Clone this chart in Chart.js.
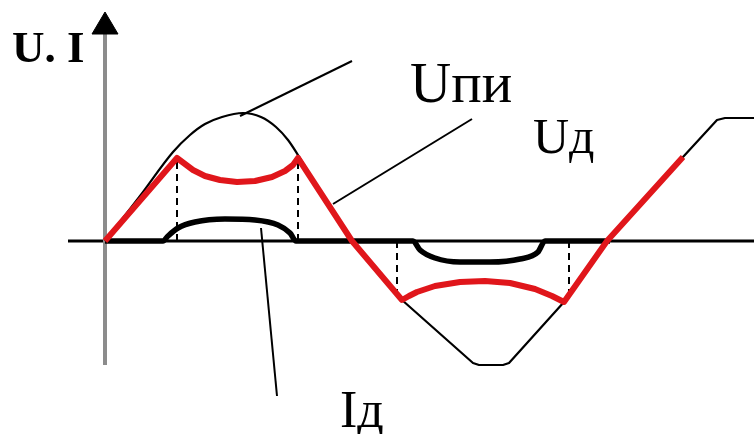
<!DOCTYPE html>
<html>
<head>
<meta charset="utf-8">
<script src="https://cdn.jsdelivr.net/npm/chart.js@4.4.0/dist/chart.umd.min.js"></script>
<style>
  body { margin: 0; background: #fff; }
  canvas { display: block; }
</style>
</head>
<body>
<canvas id="myChart" width="754" height="434"></canvas>
<script>
// x = time (origin on the U axis), y = amplitude (0 on the time axis)
// source voltage: rounded positive half, then a trapezoid-like rest
const upiArcX = [0, 35, 68, 85, 100, 117, 138, 156, 171, 183, 193, 220, 247];
const upiArcY = [0, 45, 89, 106, 117, 124, 128, 124, 114, 101, 86, 42, 0];
const upiRestX = [247, 297, 368, 374, 398, 404, 459, 502, 578, 612, 620, 649];
const upiRestY = [0, -59, -122, -124, -124, -122, -61, 0, 84, 121, 123, 123];

const udX = [0, 72, 80, 88, 100, 115, 132, 150, 167, 180, 188, 193, 247, 297, 304, 312, 330, 355, 380, 405, 430, 447, 455, 459, 502, 578];
const udY = [0, 83, 77, 71, 65, 61, 59, 60, 64, 70, 76, 83, 0, -59, -55, -51, -45, -41, -40, -42, -48, -55, -59, -61, 0, 84];

const idX = [0, 58, 63, 73, 90, 120, 150, 173, 185, 191, 308, 315, 330, 355, 385, 415, 433, 440, 505];
const idY = [0, 0, 5, 13, 19, 22, 21, 16, 8, 0, 0, -9, -17, -21, -21, -18, -11, 0, 0];

// where the red curve leaves / rejoins the source curve
const switchX = [72, 193, 292, 464];
const switchY = [81, 81, -57, -59];

const labels = [
    { text: 'U. I', x: -93, y: 179, font: 'bold 45px "Liberation Serif"' },
    { text: 'Uпи', x: 305, y: 139, font: '57px "Liberation Serif"' },
    { text: 'Uд', x: 428, y: 88, font: '50px "Liberation Serif"' },
    { text: 'Iд', x: 235, y: -186, font: '52px "Liberation Serif"' }
];

function pts(xs, ys) {
    return xs.map((x, i) => ({ x: x, y: ys[i] }));
}

function line(data, color, width, dash) {
    return {
        data: data,
        showLine: true,
        borderColor: color,
        borderWidth: width,
        borderDash: dash || [],
        pointRadius: 0,
        tension: 0,
        fill: false,
        borderCapStyle: 'butt',
        borderJoinStyle: 'round'
    };
}

const red = '#e0161b';
const sets = [];
sets.push(line([{ x: -37, y: 0 }, { x: 649, y: 0 }], '#000', 3));
sets.push(line([{ x: 0, y: -124 }, { x: 0, y: 210 }], '#8c8c8c', 4));
let arrow = line([{ x: -13, y: 207 }, { x: 0, y: 229 }, { x: 13, y: 207 }, { x: -13, y: 207 }], '#000', 1);
arrow.fill = 'shape';
arrow.backgroundColor = '#000';
sets.push(arrow);
let upi = line(pts(upiArcX, upiArcY), '#000', 2.2);
upi.cubicInterpolationMode = 'monotone';
sets.push(upi);
sets.push(line(pts(upiRestX, upiRestY), '#000', 2.2));
switchX.forEach((x, i) => sets.push(line([{ x: x, y: 0 }, { x: x, y: switchY[i] }], '#000', 2, [7, 5])));
// leader lines to the captions
sets.push(line([{ x: 135, y: 125 }, { x: 247, y: 180 }], '#000', 2));
sets.push(line([{ x: 228, y: 37 }, { x: 367, y: 122 }], '#000', 2));
sets.push(line([{ x: 156, y: 13 }, { x: 172, y: -155 }], '#000', 2));
let id = line(pts(idX, idY), '#000', 5.5);
id.cubicInterpolationMode = 'monotone';
sets.push(id);
sets.push(line(pts(udX, udY), red, 6));
sets.forEach((d, i) => d.order = sets.length - i);

const textPlugin = {
    id: 'captions',
    afterDatasetsDraw(chart) {
        const ctx = chart.ctx;
        const xs = chart.scales.x, ys = chart.scales.y;
        ctx.save();
        ctx.fillStyle = '#000';
        ctx.textBaseline = 'alphabetic';
        labels.forEach(l => {
            ctx.font = l.font;
            ctx.fillText(l.text, xs.getPixelForValue(l.x), ys.getPixelForValue(l.y));
        });
        ctx.restore();
    }
};

window.onload = function() {
    var ctx = document.getElementById('myChart').getContext('2d');
    new Chart(ctx, {
        type: 'scatter',
        data: { datasets: sets },
        options: {
            responsive: false,
            animation: false,
            devicePixelRatio: 1,
            layout: { padding: 0 },
            plugins: {
                legend: { display: false },
                tooltip: { enabled: false }
            },
            scales: {
                x: { type: 'linear', min: -105, max: 649, display: false },
                y: { type: 'linear', min: -193, max: 241, display: false }
            }
        },
        plugins: [textPlugin]
    });
};
</script>
</body>
</html>
